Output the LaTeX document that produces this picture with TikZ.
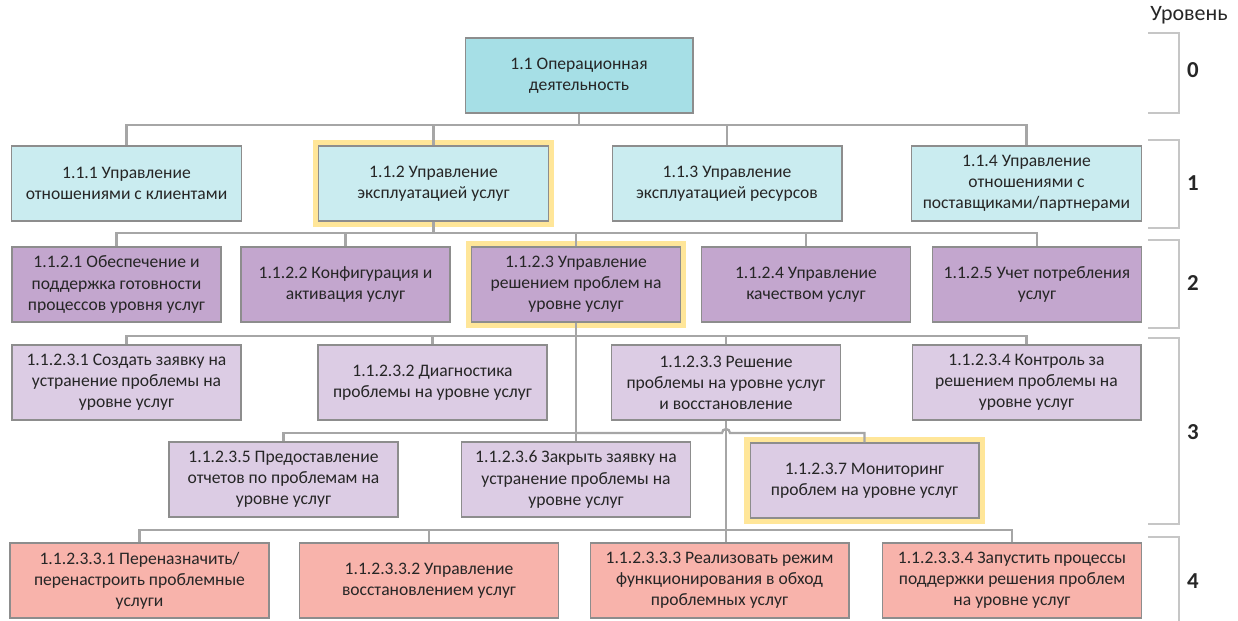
\documentclass[tikz,border=0pt]{standalone}
\usepackage{fontspec}
\setmainfont{Carlito}
\usepackage{tikz}
\usetikzlibrary{calc}

\definecolor{rootcol}{HTML}{A6DFE6}
\definecolor{onecol}{HTML}{CAECF0}
\definecolor{twocol}{HTML}{C3A6CE}
\definecolor{threecol}{HTML}{DCCCE4}
\definecolor{fourcol}{HTML}{F8B3AB}
\definecolor{hlcol}{HTML}{FFE699}
\definecolor{edgecol}{HTML}{A6A6A6}
\definecolor{txtcol}{HTML}{262626}

\begin{document}
\begin{tikzpicture}[x=0.02cm, y=-0.02cm,
    box/.style={draw=edgecol!85!black, line width=0.6pt, inner sep=0pt, minimum height=1.5cm,
        align=center, text=txtcol, font=\fontsize{10}{12}\selectfont},
    lvl0/.style={box, fill=rootcol, minimum width=4.56cm},
    lvl1/.style={box, fill=onecol, minimum width=4.6cm},
    lvl2/.style={box, fill=twocol, minimum width=4.18cm},
    lvl3/.style={box, fill=threecol, minimum width=4.58cm},
    lvl4/.style={box, fill=fourcol, minimum width=5.18cm},
    hl/.style={preaction={draw=hlcol, line width=6.5pt}},
    conn/.style={draw=edgecol, line width=1.3pt},
    brk/.style={draw=gray!45, line width=0.8pt},
    lvlnum/.style={text=txtcol, font=\fontsize{13}{15}\selectfont\bfseries}]
            \useasboundingbox (0,0) rectangle (1238,620);

            % level 0 and 1
            \node[lvl0] (root) at (579,75.5) {1.1 Операционная\\деятельность};
            \node[lvl1] (n111) at (126.5,183.5) {1.1.1 Управление\\отношениями с клиентами};
            \node[lvl1, hl] (n112) at (433.5,183.5) {1.1.2 Управление\\эксплуатацией услуг};
            \node[lvl1] (n113) at (727,183.5) {1.1.3 Управление\\эксплуатацией ресурсов};
            \node[lvl1] (n114) at (1026.5,183.5) {1.1.4 Управление\\отношениями с\\поставщиками/партнерами};

            % level 2
            \node[lvl2] (n1121) at (116.5,284.5) {1.1.2.1 Обеспечение и\\поддержка готовности\\процессов уровня услуг};
            \node[lvl2] (n1122) at (345.5,284.5) {1.1.2.2 Конфигурация и\\активация услуг};
            \node[lvl2, hl] (n1123) at (576,284.5) {1.1.2.3 Управление\\решением проблем на\\уровне услуг};
            \node[lvl2] (n1124) at (806,284.5) {1.1.2.4 Управление\\качеством услуг};
            \node[lvl2] (n1125) at (1037,284.5) {1.1.2.5 Учет потребления\\услуг};

            % level 3
            \node[lvl3] (n11231) at (126.5,382.5) {1.1.2.3.1 Создать заявку на\\устранение проблемы на\\уровне услуг};
            \node[lvl3] (n11232) at (432.5,382.5) {1.1.2.3.2 Диагностика\\проблемы на уровне услуг};
            \node[lvl3] (n11233) at (726,382.5) {1.1.2.3.3 Решение\\проблемы на уровне услуг\\и восстановление};
            \node[lvl3] (n11234) at (1026.5,382.5) {1.1.2.3.4 Контроль за\\решением проблемы на\\уровне услуг};
            \node[lvl3] (n11235) at (283.5,479.5) {1.1.2.3.5 Предоставление\\отчетов по проблемам на\\уровне услуг};
            \node[lvl3] (n11236) at (576,479.5) {1.1.2.3.6 Закрыть заявку на\\устранение проблемы на\\уровне услуг};
            \node[lvl3, hl] (n11237) at (864.5,480.5) {1.1.2.3.7 Мониторинг\\проблем на уровне услуг};

            % level 4
            \node[lvl4] (n112331) at (139.5,580.5) {1.1.2.3.3.1 Переназначить/\\перенастроить проблемные\\услуги};
            \node[lvl4] (n112332) at (429,580.5) {1.1.2.3.3.2 Управление\\восстановлением услуг};
            \node[lvl4] (n112333) at (719.5,580.5) {1.1.2.3.3.3 Реализовать режим\\функционирования в обход\\проблемных услуг};
            \node[lvl4] (n112334) at (1012,580.5) {1.1.2.3.3.4 Запустить процессы\\поддержки решения проблем\\на уровне услуг};

            % bus lines
            \coordinate (bus0) at (0,125);
            \coordinate (bus1) at (0,233);
            \coordinate (bus3a) at (0,336);
            \coordinate (bus3b) at (0,433);
            \coordinate (bus4) at (0,530);

            \foreach \c in {n111,n112,n113,n114}
                \draw[conn] (root) -- (root |- bus0) -| (\c);
            \foreach \c in {n1121,n1122,n1123,n1124,n1125}
                \draw[conn] (n112) -- (n112 |- bus1) -| (\c);
            \draw[conn] (n1123) -- (n11236);
            \foreach \c in {n11231,n11232,n11233,n11234}
                \draw[conn] (n1123 |- bus3a) -| (\c);
            \draw[conn] (n1123 |- bus3b) -| (n11235);
            \draw[conn] (n1123 |- bus3b) -- ($(n11233 |- bus3b)+(-4,0)$) arc (180:360:4) -| (n11237);
            \draw[conn] (n11233) -- (n11233 |- n112333.north);
            \foreach \c in {n112331,n112332,n112334}
                \draw[conn] (n11233 |- bus4) -| (\c);

            % level brackets
            \node[text=txtcol, font=\fontsize{12.5}{14}\selectfont] (lvlhead) at (1189,15) {Уровень};
            \draw[brk] (1148,33) -- (1179,33) -- (1179,113) -- (1148,113);
            \draw[brk] (1148,140) -- (1179,140) -- (1179,228) -- (1148,228);
            \draw[brk] (1148,240) -- (1179,240) -- (1179,328) -- (1148,328);
            \draw[brk] (1148,338) -- (1179,338) -- (1179,524) -- (1148,524);
            \draw[brk] (1148,537) -- (1179,537) -- (1179,621);
            \node[lvlnum] (lvl0) at (1193,70) {0};
            \node[lvlnum] (lvl1) at (1193,183) {1};
            \node[lvlnum] (lvl2) at (1193,283) {2};
            \node[lvlnum] (lvl3) at (1193,432) {3};
            \node[lvlnum] (lvl4) at (1193,581) {4};
\end{tikzpicture}
\end{document}
